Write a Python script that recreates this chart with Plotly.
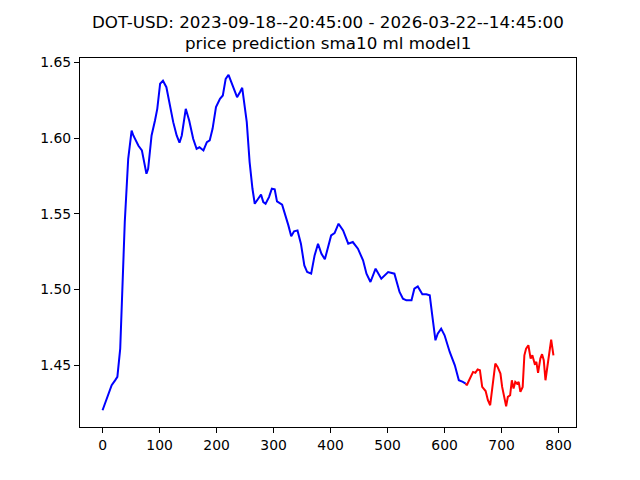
import plotly.graph_objects as go

# Traced values (index, price)
hist_x = [0, 7, 16, 22, 26, 31, 35, 39, 45, 51, 54, 63, 69, 73, 77, 80, 86, 92, 96, 101,
          106, 112, 118, 124, 130, 135, 139, 146, 152, 159, 165, 170, 177, 183, 188, 193,
          199, 206, 211, 216, 221, 226, 232, 236, 241, 245, 253, 258, 263, 267, 273, 278,
          282, 286, 292, 297, 302, 306, 315, 321, 326, 331, 336, 342, 348, 354, 359, 366,
          372, 378, 384, 390, 396, 401, 407, 414, 422, 431, 439, 448, 457, 463, 470, 479,
          489, 501, 512, 521, 527, 533, 542, 547, 553, 561, 568, 574, 578, 584, 588, 594,
          600, 609, 618, 625, 632, 637]
hist_y = [1.4203, 1.428, 1.4368, 1.440, 1.4423, 1.461, 1.5008, 1.5446, 1.5864, 1.605,
          1.6018, 1.595, 1.592, 1.584, 1.5765, 1.5798, 1.6018, 1.6117, 1.6194, 1.636,
          1.638, 1.6337, 1.6216, 1.6106, 1.6018, 1.597, 1.6018, 1.6194, 1.6117, 1.5996,
          1.593, 1.594, 1.5919, 1.5974, 1.5985, 1.6062, 1.6205, 1.626, 1.6282, 1.6392,
          1.6419, 1.637, 1.6304, 1.6271, 1.6304, 1.6333, 1.6106, 1.5842, 1.5666, 1.5567,
          1.560, 1.5627, 1.5578, 1.5567, 1.5611, 1.5666, 1.5662, 1.5583, 1.5561, 1.549,
          1.5424, 1.5353, 1.5385, 1.5391, 1.5303, 1.516, 1.5116, 1.5105, 1.5226, 1.5303,
          1.5237, 1.520, 1.5281, 1.5358, 1.5373, 1.5435, 1.5391, 1.5303, 1.5314, 1.527,
          1.5193, 1.5105, 1.505, 1.5138, 1.5072, 1.5116, 1.5105, 1.4984, 1.494, 1.4929,
          1.4929, 1.5006, 1.5021, 1.4969, 1.4969, 1.4962, 1.4841, 1.4665, 1.4709, 1.4742,
          1.4698, 1.4588, 1.450, 1.4401, 1.439, 1.4379]

pred_x = [637, 639, 643, 650, 654, 658, 662, 666, 672, 676, 680, 684, 689, 693, 698, 701,
          705, 708, 711, 715, 718, 721, 724, 727, 730, 733, 737, 740, 743, 747, 751, 754,
          758, 761, 764, 768, 771, 774, 777, 781, 784, 787, 791]
pred_y = [1.4379, 1.4368, 1.4401, 1.4456, 1.445, 1.4472, 1.4467, 1.4357, 1.433, 1.4269,
          1.4236, 1.4346, 1.4511, 1.4489, 1.4445, 1.4357, 1.428, 1.4229, 1.4291, 1.4302,
          1.4401, 1.4346, 1.439, 1.4379, 1.439, 1.4324, 1.4357, 1.4566, 1.461, 1.4632,
          1.4544, 1.4566, 1.4511, 1.4522, 1.445, 1.4544, 1.4573, 1.4533, 1.4401, 1.4511,
          1.4599, 1.467, 1.4566]

x_ticks = [0, 100, 200, 300, 400, 500, 600, 700, 800]
y_ticks = [1.45, 1.50, 1.55, 1.60, 1.65]

title1 = "DOT-USD: 2023-09-18--20:45:00 - 2026-03-22--14:45:00"
title2 = "price prediction sma10 ml model1"

font = "DejaVu Sans"

fig = go.Figure()
fig.add_trace(go.Scatter(x=hist_x, y=hist_y, mode="lines",
                         line=dict(color="#0000ff", width=2), showlegend=False))
fig.add_trace(go.Scatter(x=pred_x, y=pred_y, mode="lines",
                         line=dict(color="#ff0000", width=2), showlegend=False))

xmin, xmax = 0, max(pred_x)
xpad = (xmax - xmin) * 0.05
all_y = hist_y + pred_y
ymin, ymax = min(all_y), max(all_y)
ypad = (ymax - ymin) * 0.05

axis_common = dict(showgrid=False, zeroline=False, showline=True, linecolor="black",
                   linewidth=1, mirror=True, ticks="outside", ticklen=5, tickwidth=1,
                   tickcolor="black", automargin=False,
                   tickfont=dict(family=font, size=13.9, color="black"))

fig.update_layout(
    width=632, height=472,
    margin=dict(l=72, r=64, t=50, b=53),
    paper_bgcolor="white", plot_bgcolor="white",
    xaxis=dict(range=[xmin - xpad, xmax + xpad], tickvals=x_ticks,
               ticktext=[str(v) for v in x_ticks], **axis_common),
    yaxis=dict(range=[ymin - ypad, ymax + ypad], tickvals=y_ticks,
               ticktext=[f"{v:.2f}" for v in y_ticks], **axis_common),
    annotations=[
        dict(text=title1, xref="paper", yref="paper", x=0.5, y=1.098, showarrow=False,
             xanchor="center", yanchor="middle", font=dict(family=font, size=16.7, color="black")),
        dict(text=title2, xref="paper", yref="paper", x=0.5, y=1.041, showarrow=False,
             xanchor="center", yanchor="middle", font=dict(family=font, size=16.7, color="black")),
    ],
)

fig.write_html("out.html")
